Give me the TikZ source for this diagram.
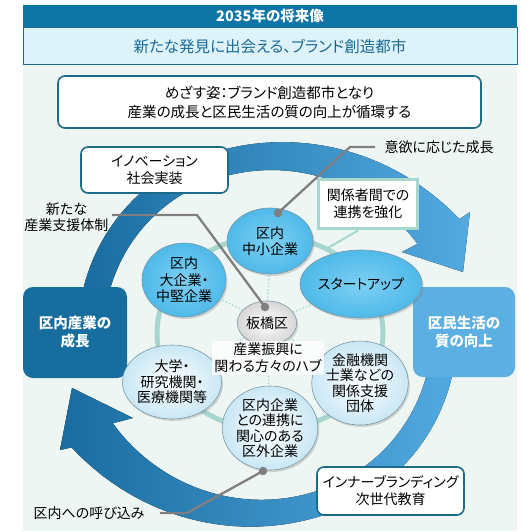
\documentclass[tikz,border=0pt]{standalone}
\usepackage{fontspec}
\setmainfont{Noto Sans CJK JP}[RawFeature=+palt]
\usetikzlibrary{positioning}
\usetikzlibrary{shapes.geometric}
\usetikzlibrary{shadows}
\definecolor{panelbg}{HTML}{EEF6F4}
\definecolor{hdrblue}{HTML}{0D76A7}
\definecolor{titlefill}{HTML}{DDF2F9}
\definecolor{titletext}{HTML}{1B6A96}
\definecolor{boxline}{HTML}{1D6B8A}
\definecolor{growdark}{HTML}{166D9E}
\definecolor{growlight}{HTML}{5BAFE1}
\definecolor{arrowdark}{HTML}{1A6CA0}
\definecolor{arrowlight}{HTML}{52AAE0}
\definecolor{ringteal}{HTML}{A6D7CE}
\definecolor{corpin}{HTML}{7DD0F3}
\definecolor{corpout}{HTML}{4FB9E9}
\definecolor{paleout}{HTML}{C9E7F5}
\definecolor{grayout}{HTML}{D6D6D6}
\definecolor{corpline}{HTML}{7F98A6}
\definecolor{callgray}{HTML}{7F7F7F}

\begin{document}
\begin{tikzpicture}[
    x=1pt, y=-1pt,
    node distance=4pt and 4pt,
    every node/.style={align=center, font=\fontsize{14}{17}\selectfont},
    framebox/.style={draw=boxline, line width=1.6pt, rounded corners=7pt, fill=white, inner sep=0pt},
    growbox/.style={rounded corners=10pt, text=white, inner sep=0pt, font=\bfseries\fontsize{14.5}{18}\selectfont},
    corp/.style={ellipse, draw=corpline, line width=0.6pt, inner sep=0pt, inner color=corpin, outer color=corpout,
      drop shadow={opacity=0.3, shadow xshift=1.5pt, shadow yshift=-2pt}, font=\fontsize{14}{16.5}\selectfont},
    palecorp/.style={corp, inner color=white, outer color=paleout, font=\fontsize{14}{15.5}\selectfont},
    spoke/.style={draw=ringteal, line width=1.4pt, dotted},
    callline/.style={draw=callgray, line width=2.3pt},
    calldot/.style={circle, fill=callgray, inner sep=0pt, minimum size=8.5pt}
    ]

    \useasboundingbox[fill=white] (0,0) rectangle (532,531);
    \fill[panelbg] (23,64) rectangle (517,531);

    % header
    \node[fill=hdrblue, text=white, font=\bfseries\fontsize{14.5}{17}\selectfont, minimum width=494pt, minimum height=22pt, inner sep=0pt] (hdr) at (270,16) {2035年の将来像};
    \node[fill=titlefill, draw=boxline, line width=0.8pt, text=titletext, font=\fontsize{15.5}{18}\selectfont, minimum width=494pt, minimum height=37pt, inner sep=0pt, below=0pt of hdr] (title) {新たな発見に出会える、ブランド創造都市};
    \node[framebox, minimum width=423pt, minimum height=52pt, font=\fontsize{14.5}{19}\selectfont] (goal) at (269.5,102) {めざす姿：ブランド創造都市となり\\産業の成長と区民生活の質の向上が循環する};

    % cycle arrows
    \fill[left color=arrowdark, right color=arrowlight]
      plot[domain=175:329.5, samples=60] ({266+(188+37*(max(0,(\x-250)/80))^2)*cos(\x)}, {333+(188+37*(max(0,(\x-250)/80))^2)*sin(\x)})
      -- (470,212) -- (463,272) -- (402,252)
      -- plot[domain=329.5:175, samples=60] ({266+(162+14*(max(0,(\x-250)/80))^2)*cos(\x)}, {333+(162+14*(max(0,(\x-250)/80))^2)*sin(\x)})
      -- cycle;
    \fill[left color=arrowdark, right color=arrowlight]
      plot[domain=-5:149.5, samples=60] ({266+(191+35*(max(0,(\x-70)/80))^2)*cos(\x)}, {333+(191+35*(max(0,(\x-70)/80))^2)*sin(\x)})
      -- (60,450) -- (72,388) -- (133,418)
      -- plot[domain=149.5:-5, samples=60] ({266+(166+12*(max(0,(\x-70)/80))^2)*cos(\x)}, {333+(166+12*(max(0,(\x-70)/80))^2)*sin(\x)})
      -- cycle;

    \node[growbox, fill=growdark, minimum width=104pt, minimum height=91pt] (grow) at (75,332.5) {区内産業の\\成長};
    \node[growbox, fill=growlight, minimum width=102pt, minimum height=90pt] (life) at (464,332) {区民生活の\\質の向上};

    \node[framebox, minimum width=147pt, minimum height=46pt] (innov) at (154.5,170) {イノベーション\\社会実装};
    \node[framebox, minimum width=147pt, minimum height=48pt] (inner) at (390.5,491) {インナーブランディング\\次世代教育};

    % hub ring
    \draw[ringteal, line width=5pt] (270,333) ellipse [x radius=113, y radius=97];
    \coordinate (ringpt) at (326,249);
    \node[draw=ringteal, line width=3.5pt, fill=white, minimum width=99pt, minimum height=49pt, inner sep=0pt] (kanren) at (368,204) {関係者間での\\連携を強化};
    \draw[ringteal, line width=2pt] (kanren.250) -- (ringpt);

    \node[corp, minimum width=86pt, minimum height=66pt] (chusho) at (270,241) {区内\\中小企業};
    \node[corp, minimum width=82pt, minimum height=68pt] (startup) at (361,284) {スタートアップ};
    \node[corp, minimum width=84pt, minimum height=74pt] (daikigyo) at (184,280) {区内\\大企業・\\中堅企業};
    \node[palecorp, minimum width=82pt, minimum height=74pt] (daigaku) at (172,382) {大学・\\研究機関・\\医療機関等};
    \node[palecorp, minimum width=80pt, minimum height=75pt] (kinyu) at (360,383) {金融機関\\士業などの\\関係支援\\団体};
    \node[palecorp, minimum width=86pt, minimum height=72pt] (kugai) at (270,428) {区内企業\\との連携に\\関心のある\\区外企業};
    \node[corp, outer color=grayout, inner color=white, minimum width=49pt, minimum height=44pt] (hub) at (267,323) {板橋区};

    \path[spoke] (hub) edge (chusho) edge (startup) edge (daikigyo)
      edge (daigaku) edge (kinyu) edge (kugai);
    \node[fill=white, fill opacity=0.8, text opacity=1, inner sep=2pt] (hublbl) at (268,358) {産業振興に\\関わる方々のハブ};

    % callouts
    \node[calldot] (d1) at (278,213) {};
    \coordinate (k1) at (350,147);
    \coordinate (k1e) at (375,147);
    \node[right=6pt of k1e] (note1) {意欲に応じた成長};
    \draw[callline] (d1.center) -- (k1) -- (k1e);

    \node[calldot] (d2) at (265,307) {};
    \coordinate (k2s) at (112,215);
    \coordinate (k2) at (197,215);
    \node[left=0pt of k2s, yshift=-2pt, font=\fontsize{14}{16}\selectfont] (note2) {新たな\\産業支援体制};
    \draw[callline] (k2s) -- (k2) -- (d2.center);

    \node[calldot] (d3) at (263,471) {};
    \coordinate (k3s) at (160,513);
    \coordinate (k3) at (187,513);
    \node[left=12pt of k3s] (note3) {区内への呼び込み};
    \draw[callline] (k3s) -- (k3) -- (d3.center);

  \end{tikzpicture}
\end{document}
